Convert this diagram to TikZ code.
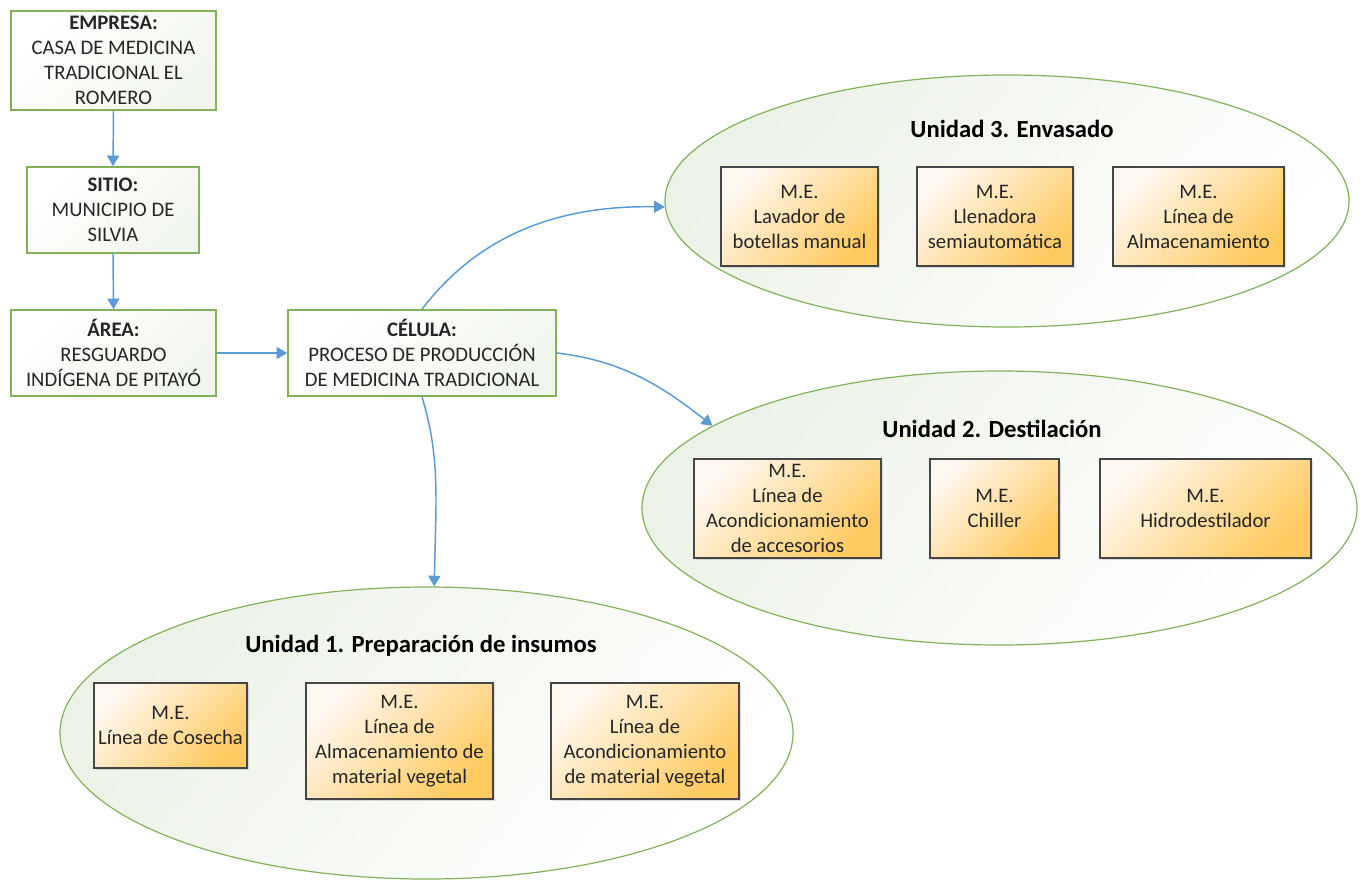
\documentclass[tikz,border=0pt]{standalone}
\usepackage{fontspec}
\setmainfont{Carlito}
\usetikzlibrary{arrows.meta,shapes.geometric,shadows}
\definecolor{gborder}{RGB}{130,178,92}
\definecolor{arrowc}{RGB}{91,155,213}
\definecolor{orlight}{RGB}{255,248,240}
\definecolor{ordark}{RGB}{255,202,96}
\definecolor{ellfill}{RGB}{236,242,231}
\definecolor{gfill}{RGB}{241,246,237}
\definecolor{obord}{RGB}{70,70,70}
\begin{document}
\begin{tikzpicture}[x=0.75pt,y=-0.75pt,
  txt/.style={font=\fontsize{15.5}{18.75}\selectfont, align=center, text=black!85},
  gbox/.style={txt, draw=gborder, line width=1.2pt, shade, top color=white, bottom color=gfill, shading angle=45, inner sep=0pt},
  obox/.style={txt, draw=obord, line width=1pt, shade, top color=orlight, bottom color=ordark, shading angle=45, inner sep=0pt,
     drop shadow={shadow xshift=1.2pt, shadow yshift=-1.2pt, opacity=0.25}},
  ell/.style={ellipse, draw=gborder, line width=0.9pt, shade, top color=ellfill, bottom color=white, shading angle=50, inner sep=0pt},
  ttl/.style={font=\fontsize{18.5}{22}\selectfont\bfseries, text=black},
  conn/.style={draw=arrowc, line width=1.1pt, -{Triangle[length=8pt,width=9pt]}}
]
\useasboundingbox (0,0) rectangle (1363,882);
\fill[white] (0,0) rectangle (1363,882);

% ellipses
\node[ell, minimum width=549.75pt, minimum height=219pt] (u1) at (426.5,733) {};
\node[ell, minimum width=536.25pt, minimum height=205.5pt] (u2) at (999.5,508) {};
\node[ell, minimum width=513pt, minimum height=189pt] (u3) at (1007,201) {};

\node[ttl] (t3) at (1012,129) {Unidad 3. Envasado};
\node[ttl] (t2) at (992,429) {Unidad 2. Destilación};
\node[ttl] (t1) at (421,646) {Unidad 1. Preparación de insumos};

% green boxes
\node[gbox, minimum width=153.75pt, minimum height=74.25pt] (emp) at (113.5,60.5)
  {\textbf{EMPRESA:}\\CASA DE MEDICINA\\TRADICIONAL EL\\ROMERO};
\node[gbox, minimum width=129pt, minimum height=64.5pt] (sit) at (113,210)
  {\textbf{SITIO:}\\MUNICIPIO DE\\SILVIA};
\node[gbox, minimum width=153.75pt, minimum height=64.5pt] (area) at (113.5,353)
  {\textbf{ÁREA:}\\RESGUARDO\\INDÍGENA DE PITAYÓ};
\node[gbox, minimum width=201pt, minimum height=64.5pt] (cel) at (422,353)
  {\textbf{CÉLULA:}\\PROCESO DE PRODUCCIÓN\\DE MEDICINA TRADICIONAL};

% unit 3 boxes
\node[obox, minimum width=117.75pt, minimum height=74.25pt] (lav) at (799.5,216.5)
  {M.E.\\Lavador de\\botellas manual};
\node[obox, minimum width=117pt, minimum height=74.25pt] (llen) at (995,216.5)
  {M.E.\\Llenadora\\semiautomática};
\node[obox, minimum width=128.25pt, minimum height=74.25pt] (alm3) at (1198.5,216.5)
  {M.E.\\Línea de\\Almacenamiento};

% unit 2 boxes
\node[obox, minimum width=140.25pt, minimum height=74.25pt] (acc) at (787.5,508.5)
  {M.E.\\Línea de\\Acondicionamiento\\de accesorios};
\node[obox, minimum width=96.75pt, minimum height=74.25pt] (chi) at (994.5,508.5)
  {M.E.\\Chiller};
\node[obox, minimum width=158.25pt, minimum height=74.25pt] (hid) at (1205.5,508.5)
  {M.E.\\Hidrodestilador};

% unit 1 boxes
\node[obox, minimum width=114.75pt, minimum height=63.75pt] (cos) at (170.5,725.5)
  {M.E.\\Línea de Cosecha};
\node[obox, minimum width=140.25pt, minimum height=87pt] (alm1) at (399.5,741)
  {M.E.\\Línea de\\Almacenamiento de\\material vegetal};
\node[obox, minimum width=141pt, minimum height=87pt] (aco1) at (645,741)
  {M.E.\\Línea de\\Acondicionamiento\\de material vegetal};

% connectors
\draw[conn] (emp.south) -- (sit.north);
\draw[conn] (sit.south) -- (area.north);
\draw[conn] (area.east) -- (cel.west);
\draw[conn] (cel.north) .. controls +(55,-72) and +(-110,-2) .. (u3.181);
\draw[conn] (cel.east) .. controls +(70,8) and +(-45,-35) .. (u2.164);
\draw[conn] (cel.south) .. controls +(18,60) and +(2,-90) .. (u1.87);
\end{tikzpicture}
\end{document}
